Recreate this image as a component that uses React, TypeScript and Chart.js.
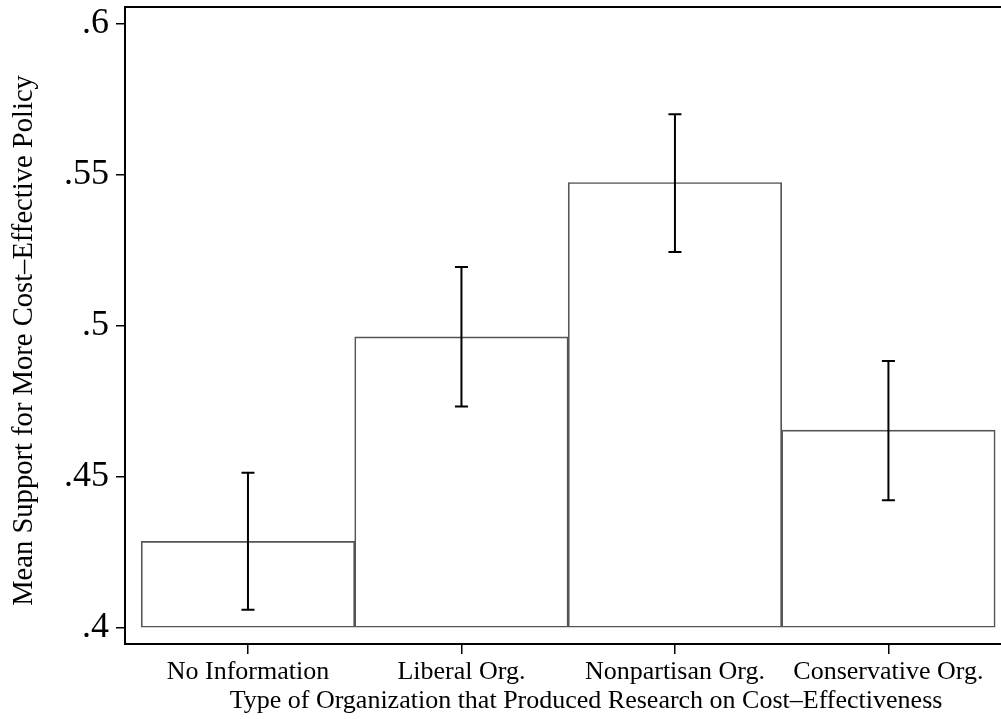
import { useEffect, useRef } from "react";
import { Chart, registerables } from "chart.js";

Chart.register(...registerables);

const categories = ["No Information", "Liberal Org.", "Nonpartisan Org.", "Conservative Org."];
const positions = [1, 2, 3, 4];
const means = [0.4287, 0.4964, 0.5475, 0.4655];
const lowerCI = [0.406, 0.4733, 0.5245, 0.4423];
const upperCI = [0.4514, 0.5195, 0.5701, 0.4884];
const yTickValues = [0.4, 0.45, 0.5, 0.55, 0.6];
const yTickLabels = [".4", ".45", ".5", ".55", ".6"];
const yTitle = "Mean Support for More Cost\u2013Effective Policy";
const xTitle = "Type of Organization that Produced Research on Cost\u2013Effectiveness";

const FONT = "'Liberation Serif', 'Times New Roman', Times, serif";

const errorBars = {
  id: "errorBars",
  afterDatasetsDraw(chart: any) {
    const { ctx, scales } = chart;
    const x = scales.x;
    const y = scales.y;
    ctx.save();
    ctx.strokeStyle = "#000";
    ctx.lineWidth = 2;
    positions.forEach((p, i) => {
      const px = x.getPixelForValue(p);
      const yl = y.getPixelForValue(lowerCI[i]);
      const yh = y.getPixelForValue(upperCI[i]);
      ctx.beginPath();
      ctx.moveTo(px, yl);
      ctx.lineTo(px, yh);
      ctx.moveTo(px - 6.5, yl);
      ctx.lineTo(px + 6.5, yl);
      ctx.moveTo(px - 6.5, yh);
      ctx.lineTo(px + 6.5, yh);
      ctx.stroke();
    });
    ctx.restore();
  },
};

const frameAndTitles = {
  id: "frameAndTitles",
  afterDraw(chart: any) {
    const { ctx, chartArea } = chart;
    ctx.save();
    ctx.strokeStyle = "#000";
    ctx.lineWidth = 2;
    ctx.beginPath();
    ctx.moveTo(chartArea.left, Math.round(chartArea.top));
    ctx.lineTo(chartArea.right, Math.round(chartArea.top));
    ctx.lineTo(chartArea.right, chartArea.bottom);
    ctx.stroke();
    ctx.fillStyle = "#000";
    ctx.textAlign = "center";
    ctx.textBaseline = "middle";
    // x-axis title
    ctx.font = `26px ${FONT}`;
    ctx.fillText(xTitle, 586, 701);
    // y-axis title
    ctx.translate(24, 340.5);
    ctx.rotate(-Math.PI / 2);
    ctx.font = `28.6px ${FONT}`;
    ctx.fillText(yTitle, 0, 0);
    ctx.restore();
  },
};

export default function App() {
  const canvasRef = useRef<HTMLCanvasElement | null>(null);

  useEffect(() => {
    if (!canvasRef.current) return;
    const chart = new Chart(canvasRef.current, {
      type: "bar",
      data: {
        datasets: [
          {
            data: positions.map((p, i) => ({ x: p, y: means[i] })),
            base: 0.4,
            backgroundColor: "rgba(255,255,255,0)",
            borderColor: "#555",
            borderWidth: 1,
            borderSkipped: false,
            barPercentage: 1,
            categoryPercentage: 1,
          } as any,
        ],
      },
      options: {
        responsive: false,
        animation: false,
        devicePixelRatio: 1,
        layout: { padding: { left: 0, top: 7, right: 28.6, bottom: 0 } },
        plugins: { legend: { display: false }, tooltip: { enabled: false } },
        scales: {
          x: {
            type: "linear",
            min: 0.424,
            max: 4.576,
            offset: false,
            afterBuildTicks: (s: any) => {
              s.ticks = positions.map((v) => ({ value: v }));
            },
            afterFit: (s: any) => {
              s.height = 75;
              s.paddingLeft = 0;
              s.paddingRight = 0;
            },
            ticks: {
              callback: (_v: any, i: number) => categories[i],
              font: { family: FONT, size: 26 },
              color: "#000",
              padding: 3,
              autoSkip: false,
              maxRotation: 0,
              minRotation: 0,
            },
            grid: { offset: false, drawOnChartArea: false, tickLength: 10, color: "#000", lineWidth: 1.5 },
            border: { color: "#000", width: 2 },
          },
          y: {
            min: 0.3947,
            max: 0.6056,
            afterBuildTicks: (s: any) => {
              s.ticks = yTickValues.map((v) => ({ value: v }));
            },
            afterFit: (s: any) => {
              s.width = 125;
              s.paddingTop = 0;
              s.paddingBottom = 0;
            },
            ticks: {
              callback: (_v: any, i: number) => yTickLabels[i],
              font: { family: FONT, size: 36 },
              color: "#000",
              padding: 7,
              autoSkip: false,
            },
            grid: { drawOnChartArea: false, tickLength: 9, color: "#000", lineWidth: 1.5 },
            border: { color: "#000", width: 2 },
          },
        },
      },
      plugins: [errorBars, frameAndTitles],
    } as any);
    return () => chart.destroy();
  }, []);

  return (
    <div
      style={{
        position: "absolute",
        left: 0,
        top: 0,
        width: 1001,
        height: 719,
        overflow: "hidden",
        background: "#fff",
      }}
    >
      <canvas ref={canvasRef} width={1040} height={719} style={{ width: 1040, height: 719, display: "block" }} />
    </div>
  );
}
